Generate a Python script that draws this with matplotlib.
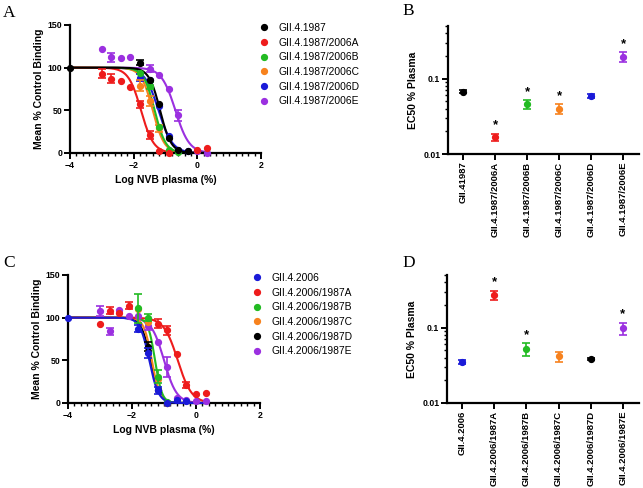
import numpy as np
import matplotlib
matplotlib.use("Agg")
import matplotlib.pyplot as plt
from matplotlib.lines import Line2D
from matplotlib.ticker import MultipleLocator, FixedLocator, NullFormatter, LogLocator

plt.rcParams['font.family'] = ['Liberation Sans', 'DejaVu Sans']

nan = np.nan
# ---------------- data ----------------
log_dose = [-4, -3, -2.7, -2.4, -2.1, -1.8, -1.5, -1.2, -0.9, -0.6, -0.3, 0, 0.3]

# Panel A
labels_A = ["GII.4.1987", "GII.4.1987/2006A", "GII.4.1987/2006B",
            "GII.4.1987/2006C", "GII.4.1987/2006D", "GII.4.1987/2006E"]
colors_A = ["#000000", "#ee1c1c", "#22bb22", "#f7821e", "#1a1ad8", "#9b30e0"]
binding_A = [
    [100, nan, nan, nan, nan, 106, 85, 58, 17, 3, 2, nan, nan],
    [nan, 93, 87, 84, 77, 57, 21, 2, 0, nan, nan, 4, 6],
    [nan, nan, nan, nan, nan, 94, 79, 31, 3, 1, nan, nan, nan],
    [nan, nan, nan, nan, nan, 79, 61, 29, 2, nan, nan, nan, nan],
    [nan, nan, nan, nan, nan, 88, 86, 55, 20, 3, 2, nan, nan],
    [nan, 122, 112, 111, 112, nan, 99, 91, 75, 44, nan, 2, 0],
]
err_A = [
    [0, 0, 0, 0, 0, 3, 0, 0, 0, 0, 0, 0, 0],
    [0, 5, 5, 0, 0, 4, 5, 0, 0, 0, 0, 0, 0],
    [0, 0, 0, 0, 0, 0, 4, 0, 0, 0, 0, 0, 0],
    [0, 0, 0, 0, 0, 6, 6, 4, 0, 0, 0, 0, 0],
    [0, 0, 0, 0, 0, 4, 0, 0, 0, 0, 0, 0, 0],
    [0, 0, 5, 0, 0, 0, 4, 0, 0, 6, 0, 0, 0],
]
logec50_A = [-1.17, -1.77, -1.34, -1.40, -1.22, -0.69]
hill_A = [2.5, 2.2, 2.5, 2.4, 2.0, 2.0]

# Panel B
cats_B = ["GII.41987", "GII.4.1987/2006A", "GII.4.1987/2006B",
          "GII.4.1987/2006C", "GII.4.1987/2006D", "GII.4.1987/2006E"]
ec50_B = [0.0675, 0.0169, 0.0455, 0.040, 0.0586, 0.196]
ec50_err_B = [0.003, 0.0018, 0.0065, 0.0058, 0.004, 0.028]
sig_B = [False, True, True, True, False, True]

# Panel C
labels_C = ["GII.4.2006", "GII.4.2006/1987A", "GII.4.2006/1987B",
            "GII.4.2006/1987C", "GII.4.2006/1987D", "GII.4.2006/1987E"]
colors_C = ["#1a1ad8", "#ee1c1c", "#22bb22", "#f7821e", "#000000", "#9b30e0"]
binding_C = [
    [100, nan, nan, nan, nan, 87, 59, 15, 0, 3, 2, nan, nan],
    [nan, 92, 108, 105, 114, nan, nan, 93, 85, 57, 21, 10, 12],
    [nan, nan, nan, nan, nan, 111, 100, 31, 1, nan, nan, nan, nan],
    [nan, nan, nan, nan, nan, 110, 95, 28, 0, nan, nan, nan, nan],
    [nan, nan, nan, nan, nan, nan, 66, 15, 0, nan, nan, nan, nan],
    [nan, 108, 84, 109, 102, 102, 90, 71, 42, 6, 3, 2, 2],
]
err_C = [
    [0, 0, 0, 0, 0, 4, 6, 4, 0, 0, 0, 0, 0],
    [0, 0, 4, 0, 4, 0, 0, 5, 5, 0, 4, 0, 0],
    [0, 0, 0, 0, 0, 17, 4, 8, 0, 0, 0, 0, 0],
    [0, 0, 0, 0, 0, 0, 0, 0, 0, 0, 0, 0, 0],
    [0, 0, 0, 0, 0, 0, 5, 0, 0, 0, 0, 0, 0],
    [0, 6, 4, 0, 0, 0, 5, 0, 12, 0, 0, 0, 0],
]
logec50_C = [-1.46, -0.57, -1.28, -1.38, -1.42, -1.0]
hill_C = [3.0, 2.0, 4.0, 3.5, 3.0, 2.2]

# Panel D
cats_D = ["GII.4.2006", "GII.4.2006/1987A", "GII.4.2006/1987B",
          "GII.4.2006/1987C", "GII.4.2006/1987D", "GII.4.2006/1987E"]
ec50_D = [0.0349, 0.27, 0.0525, 0.0415, 0.0386, 0.099]
ec50_err_D = [0.002, 0.04, 0.01, 0.006, 0.0012, 0.018]
sig_D = [False, True, True, False, False, True]

# ---------------- figure ----------------
W, H = 643, 488
fig = plt.figure(figsize=(W / 100, H / 100), dpi=100)

def fax(l, r, t, b):
    return fig.add_axes([l / W, 1 - b / H, (r - l) / W, (b - t) / H])

TICK_FS = 6.3
LAB_FS = 7.5

def style_axes(ax):
    for s in ['top', 'right']:
        ax.spines[s].set_visible(False)
    for s in ['left', 'bottom']:
        ax.spines[s].set_linewidth(1.6)
    ax.tick_params(which='major', direction='out', length=4, width=1.4,
                   labelsize=TICK_FS, pad=1.5)
    ax.tick_params(which='minor', direction='out', length=2.5, width=1.0)
    for lab in ax.get_xticklabels() + ax.get_yticklabels():
        lab.set_fontweight('bold')

def curve_panel(ax, binding, err, logec50, hill, colors, labels, leg_xy):
    xc = np.linspace(-4, 0.3, 400)
    n = len(binding)
    for i in reversed(range(n)):
        c = colors[i]
        yc = 100.0 / (1 + 10 ** ((xc - logec50[i]) * hill[i]))
        ax.plot(xc, yc, color=c, lw=1.5, clip_on=False, zorder=2 + (n - i) * 0.1)
        x = np.array(log_dose)
        y = np.array(binding[i], dtype=float)
        e = np.array(err[i], dtype=float)
        m = ~np.isnan(y)
        ax.plot(x[m], y[m], 'o', color=c, ms=4.2, clip_on=False,
                zorder=3 + (n - i) * 0.1)
        me = m & (e > 0)
        if me.any():
            ax.errorbar(x[me], y[me], yerr=e[me], fmt='none', ecolor=c,
                        elinewidth=1.2, capsize=2.8, capthick=1.2,
                        clip_on=False, zorder=3 + (n - i) * 0.1)
    ax.set_xlim(-4, 2)
    ax.set_ylim(0, 150)
    ax.set_xticks([-4, -2, 0, 2])
    ax.xaxis.set_minor_locator(MultipleLocator(0.2))
    ax.set_yticks([0, 50, 100, 150])
    ax.set_xlabel("Log NVB plasma (%)", fontsize=LAB_FS, fontweight='bold', labelpad=4)
    ax.set_ylabel("Mean % Control Binding", fontsize=LAB_FS, fontweight='bold', labelpad=3)
    style_axes(ax)
    handles = [Line2D([], [], marker='o', ls='none', color=c, ms=4.2) for c in colors]
    fig.legend(handles, labels, loc='upper left',
               bbox_to_anchor=(leg_xy[0] / W, 1 - leg_xy[1] / H),
               frameon=False, fontsize=7.4, handlelength=1.0, handletextpad=0.9,
               labelspacing=0.45, borderpad=0, borderaxespad=0)

def ec50_panel(ax, cats, vals, errs, sig, colors):
    xs = np.arange(len(cats))
    for i in range(len(cats)):
        ax.errorbar(xs[i], vals[i], yerr=errs[i], fmt='o', color=colors[i], ms=4.2,
                    elinewidth=1.2, capsize=3.2, capthick=1.2, clip_on=False, zorder=3)
        if sig[i]:
            ax.annotate("*", (xs[i], vals[i] + errs[i]), xytext=(0, 1.5),
                        textcoords='offset points', ha='center', va='bottom',
                        fontsize=9.5, fontweight='bold')
    ax.set_yscale('log')
    ax.set_ylim(0.01, 0.5)
    ax.set_xlim(-0.47, 5.5)
    ax.set_xticks(xs)
    ax.set_xticklabels(cats, rotation=90, fontsize=6.8, fontweight='bold')
    ax.yaxis.set_major_locator(FixedLocator([0.01, 0.1]))
    ax.set_yticklabels(["0.01", "0.1"])
    ax.yaxis.set_minor_locator(LogLocator(base=10, subs=np.arange(2, 10)))
    ax.yaxis.set_minor_formatter(NullFormatter())
    ax.set_ylabel("EC50 % Plasma", fontsize=LAB_FS, fontweight='bold', labelpad=3.5)
    style_axes(ax)
    ax.tick_params(axis='x', labelsize=6.8)

axA = fax(70, 261, 25, 153)
curve_panel(axA, binding_A, err_A, logec50_A, hill_A, colors_A, labels_A, (259, 23))

axB = fax(448, 639, 26, 154)
ec50_panel(axB, cats_B, ec50_B, ec50_err_B, sig_B, colors_A)

axC = fax(68, 260, 275, 403)
curve_panel(axC, binding_C, err_C, logec50_C, hill_C, colors_C, labels_C, (252, 273))

axD = fax(447, 639, 275, 403)
ec50_panel(axD, cats_D, ec50_D, ec50_err_D, sig_D, colors_C)

for letter, x, y in [("A", 3, 17), ("B", 402, 15), ("C", 3, 267), ("D", 402, 267)]:
    fig.text(x / W, 1 - y / H, letter, fontsize=12.5, family='Liberation Serif',
             ha='left', va='baseline')

fig.savefig("out.png", dpi=100)
